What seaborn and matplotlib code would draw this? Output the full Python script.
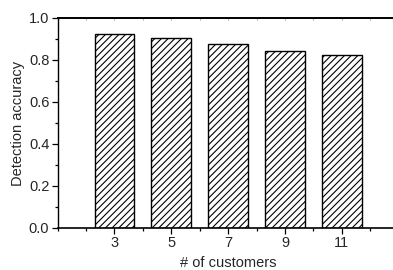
import matplotlib
matplotlib.use("Agg")
import matplotlib.pyplot as plt
import seaborn as sns
import pandas as pd
from matplotlib.ticker import MultipleLocator, NullFormatter

customers = [3, 5, 7, 9, 11]
accuracy = [0.924, 0.904, 0.875, 0.845, 0.822]
y_ticks = [0.0, 0.2, 0.4, 0.6, 0.8, 1.0]
y_tick_labels = ["0.0", "0.2", "0.4", "0.6", "0.8", "1.0"]

df = pd.DataFrame({"customers": customers, "accuracy": accuracy})

sns.set_style("ticks")
plt.rcParams["font.family"] = ["Liberation Sans", "DejaVu Sans"]
plt.rcParams["hatch.linewidth"] = 0.8
plt.rcParams["hatch.color"] = "black"

fig = plt.figure(figsize=(3.93, 2.70), dpi=100)
ax = fig.add_axes([0.1466, 0.1556, 0.8677, 0.7778])

sns.barplot(data=df, x="customers", y="accuracy", native_scale=True, width=0.7,
            color="white", edgecolor="black", linewidth=1.0, hatch="/////",
            errorbar=None, ax=ax)

ax.set_xlim(1, 13)
ax.set_ylim(0, 1.0)
ax.set_xticks(customers)
ax.set_xticklabels([str(c) for c in customers])
ax.xaxis.set_minor_locator(MultipleLocator(1))
ax.set_yticks(y_ticks)
ax.set_yticklabels(y_tick_labels)
ax.yaxis.set_minor_locator(MultipleLocator(0.1))

for s in ["left", "bottom", "top"]:
    ax.spines[s].set_visible(True)
    ax.spines[s].set_color("black")
ax.spines["left"].set_linewidth(1.0)
ax.spines["bottom"].set_linewidth(1.2)
ax.spines["top"].set_linewidth(1.4)
ax.spines["right"].set_visible(False)

ax.tick_params(axis="both", which="major", direction="out", length=4, width=0.9,
               labelsize=10.5, color="black", pad=2)
ax.tick_params(axis="both", which="minor", direction="out", length=2.5, width=0.9,
               color="black")
ax.tick_params(axis="x", which="both", top=False)

sec = ax.secondary_xaxis("top")
sec.set_xticks(range(1, 14))
sec.xaxis.set_major_formatter(NullFormatter())
sec.tick_params(direction="in", length=1.5, width=0.8, color="#aaaaaa")
sec.spines["top"].set_visible(False)

ax.set_xlabel("# of customers", fontsize=10.5, labelpad=4)
ax.set_ylabel("Detection accuracy", fontsize=10.5, labelpad=3)

fig.savefig("out.png", dpi=100)
